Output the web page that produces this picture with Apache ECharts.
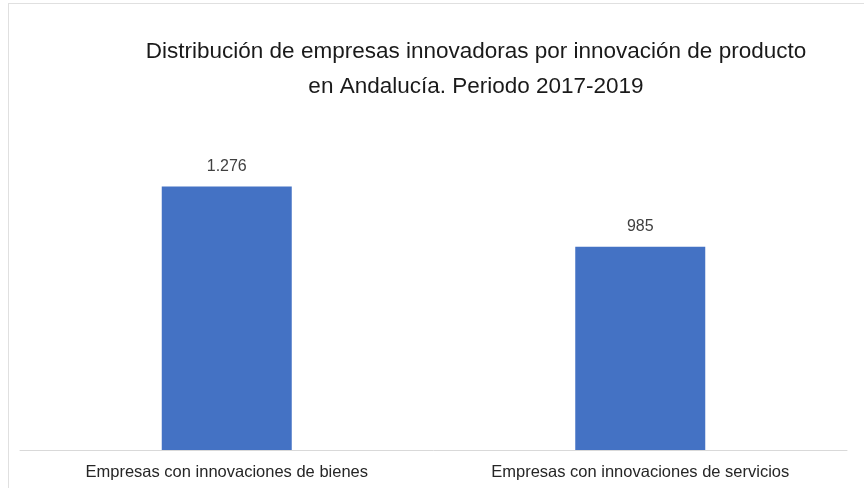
<!DOCTYPE html>
<html>
<head>
<meta charset="utf-8">
<script src="https://cdn.jsdelivr.net/npm/echarts@6/dist/echarts.min.js"></script>
<style>
html,body{margin:0;padding:0;background:#fff;}
#chart{width:864px;height:488px;position:absolute;left:0;top:0;}
#frame{position:absolute;left:8px;top:3px;width:860px;height:490px;border-top:1px solid #e0e0e0;border-left:1px solid #e0e0e0;pointer-events:none;}
</style>
</head>
<body>
<div id="chart"></div>
<div id="frame"></div>
<script>
const titleText = 'Distribución de empresas innovadoras por innovación de producto\nen Andalucía. Periodo 2017-2019';
const categories = ['Empresas con innovaciones de bienes', 'Empresas con innovaciones de servicios'];
const values = [1276, 985];

const chart = echarts.init(document.getElementById('chart'));
chart.setOption({
  animation: false,
  title: {
    text: titleText,
    left: 471,
    top: 29,
    textAlign: 'center',
    textStyle: {
      fontFamily: 'Liberation Sans',
      fontSize: 22.5,
      fontWeight: 'normal',
      color: '#1a1a1a',
      lineHeight: 35
    }
  },
  grid: { left: 20, right: 17, top: 161, bottom: 38 },
  xAxis: {
    type: 'category',
    data: categories,
    axisLine: { lineStyle: { color: '#d9d9d9', width: 1 } },
    axisTick: { show: false },
    axisLabel: {
      fontFamily: 'Liberation Sans',
      fontSize: 16.5,
      color: '#262626',
      margin: 14
    }
  },
  yAxis: {
    type: 'value',
    min: 0,
    max: 1400,
    show: false,
    splitLine: { show: false }
  },
  series: [{
    type: 'bar',
    data: values,
    barWidth: 130,
    itemStyle: { color: '#4472C4' },
    label: {
      show: true,
      position: 'top',
      distance: 12,
      fontFamily: 'Liberation Sans',
      fontSize: 16,
      color: '#404040',
      formatter: function (p) {
        return String(p.value).replace(/\B(?=(\d{3})+(?!\d))/g, '.');
      }
    }
  }]
});
</script>
</body>
</html>
